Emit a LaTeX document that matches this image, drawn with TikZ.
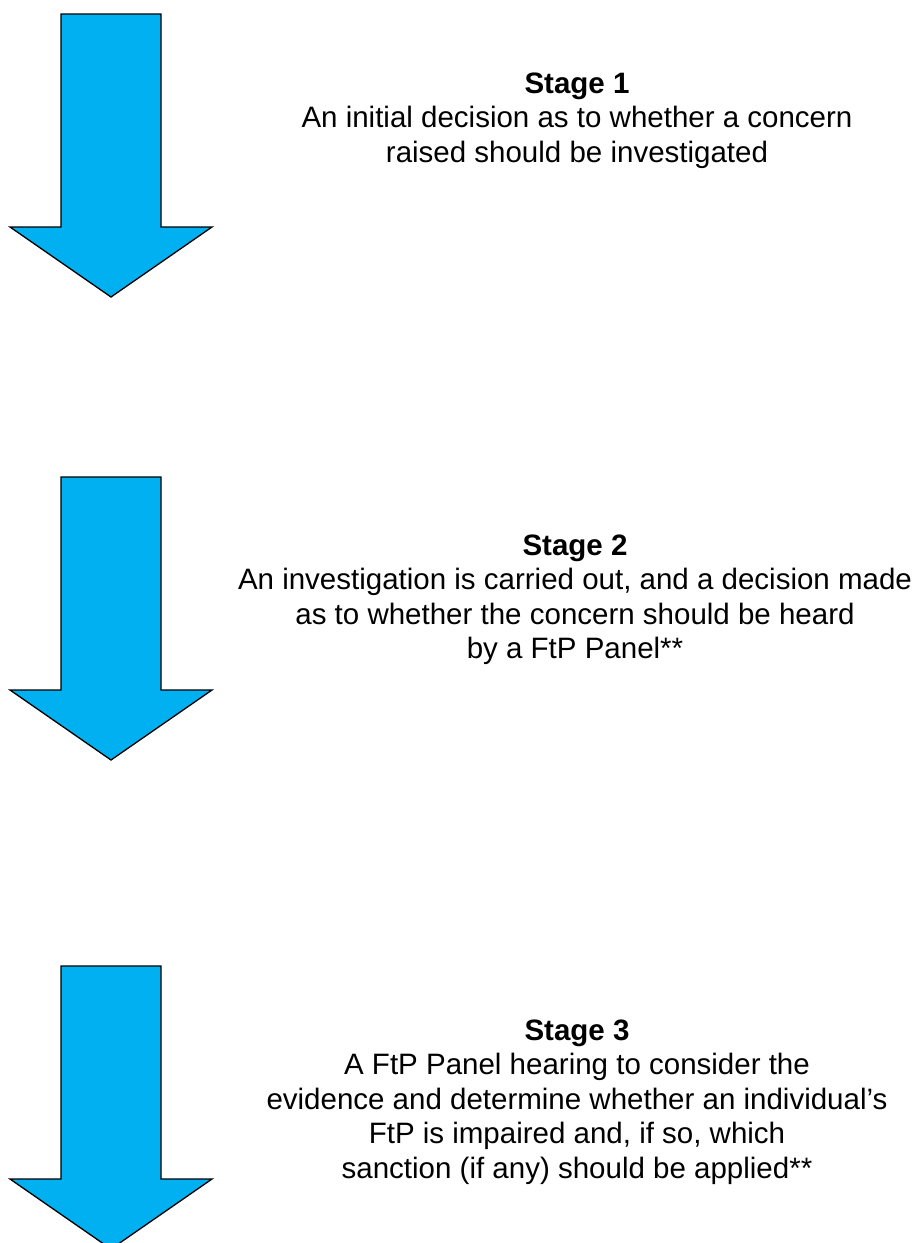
\documentclass[tikz,border=0pt]{standalone}
\usepackage{fontspec}
\setmainfont{Liberation Sans}
\definecolor{arrowblue}{HTML}{00B0F0}
\tikzset{
  bigarrow/.style={fill=arrowblue, draw=black, line width=1.3pt, line join=miter},
  ln/.style={anchor=base, font=\fontsize{29.5}{34}\selectfont, inner sep=0pt},
  hd/.style={ln, font=\fontsize{29.5}{34}\selectfont\bfseries}
}
\newcommand{\downarrowshape}[1]{%
  \draw[bigarrow] (61,#1) -- (161,#1) -- (161,#1+213) -- (212,#1+213) -- (111,#1+283)
    -- (10,#1+213) -- (61,#1+213) -- cycle;}
\begin{document}
\begin{tikzpicture}[x=1pt,y=-1pt]
\useasboundingbox (0,0) rectangle (915,1243);
\begin{scope}
\clip (0,0) rectangle (915,1243);
\downarrowshape{14}
\downarrowshape{477}
\downarrowshape{966}
\end{scope}
% Stage 1
\node[hd] (s1h) at (577,93) {Stage 1};
\node[ln] (s1a) at (577,127.5) {An initial decision as to whether a concern};
\node[ln] (s1b) at (577,162) {raised should be investigated};
% Stage 2
\node[hd] (s2h) at (575,555) {Stage 2};
\node[ln] (s2a) at (575,589.5) {An investigation is carried out, and a decision made};
\node[ln] (s2b) at (575,624) {as to whether the concern should be heard};
\node[ln] (s2c) at (575,658.5) {by a FtP Panel**};
% Stage 3
\node[hd] (s3h) at (577,1040) {Stage 3};
\node[ln] (s3a) at (577,1074.5) {A FtP Panel hearing to consider the};
\node[ln] (s3b) at (577,1109) {evidence and determine whether an individual’s};
\node[ln] (s3c) at (577,1143.5) {FtP is impaired and, if so, which};
\node[ln] (s3d) at (577,1178) {sanction (if any) should be applied**};
\end{tikzpicture}
\end{document}
